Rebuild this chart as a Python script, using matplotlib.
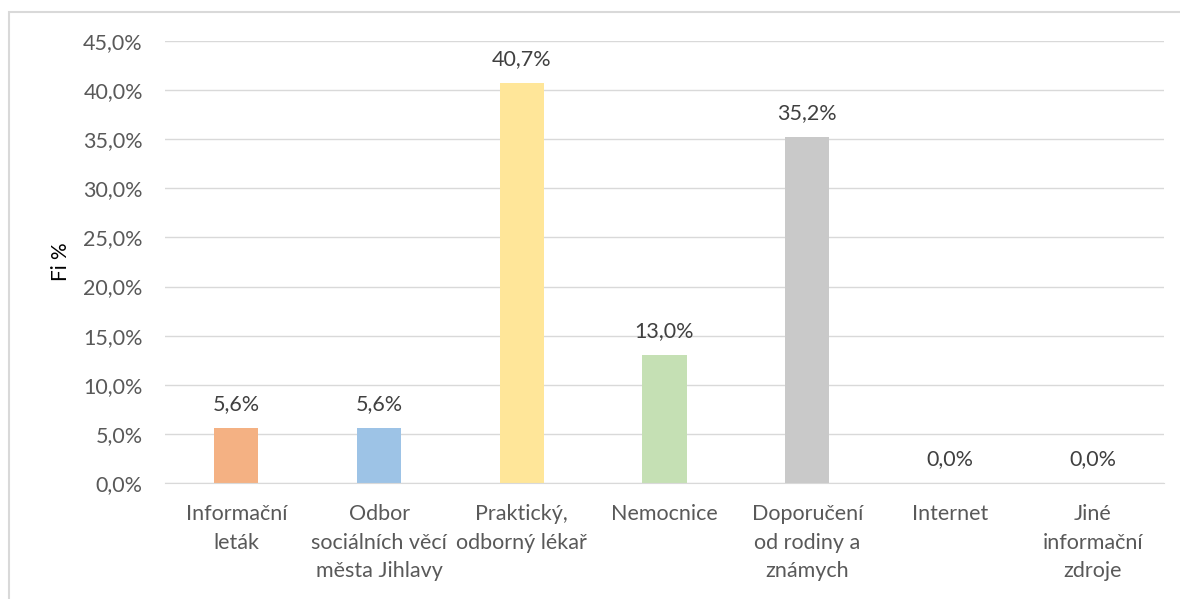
import matplotlib
matplotlib.use("Agg")
import matplotlib.pyplot as plt
from matplotlib.patches import Rectangle
from matplotlib.ticker import FuncFormatter, MultipleLocator

categories = ["Informační\nleták", "Odbor\nsociálních věcí\nměsta Jihlavy", "Praktický,\nodborný lékař",
              "Nemocnice", "Doporučení\nod rodiny a\nznámych", "Internet", "Jiné\ninformační\nzdroje"]
values = [5.6, 5.6, 40.7, 13.0, 35.2, 0.0, 0.0]
colors = ["#F4B183", "#9DC3E6", "#FFE699", "#C5E0B4", "#C9C9C9", "#A9D18E", "#8FAADC"]

plt.rcParams['font.family'] = ['Lato', 'DejaVu Sans']

W, H = 1180, 599
fig = plt.figure(figsize=(W / 100, H / 100), dpi=100)
fig.patches.append(Rectangle((9 / W, -0.1), 1.2, 1 - 12 / H + 0.1, transform=fig.transFigure,
                             fill=False, edgecolor="#D9D9D9", lw=1.5))

ax = fig.add_axes([165 / W, 1 - 483 / H, (1164 - 165) / W, (483 - 41) / H])
x = range(len(categories))
bars = ax.bar(x, values, width=0.31, color=colors, zorder=2)
for xi, v in zip(x, values):
    ax.annotate(f"{v:.1f}%".replace(".", ","), (xi, v), xytext=(0, 10), textcoords="offset points",
                ha="center", va="bottom", fontsize=15.5, color="#404040")

ax.set_xlim(-0.5, len(categories) - 0.5)
ax.set_ylim(0, 45)
ax.yaxis.set_major_locator(MultipleLocator(5))
ax.yaxis.set_major_formatter(FuncFormatter(lambda v, p: f"{v:.1f}%".replace(".", ",")))
ax.grid(axis="y", color="#D9D9D9", lw=1, zorder=0)
for s in ["top", "right", "left"]:
    ax.spines[s].set_visible(False)
ax.spines["bottom"].set_color("#D9D9D9")
ax.tick_params(length=0)
ax.tick_params(axis="y", labelsize=15.5, labelcolor="#595959", pad=16)
ax.set_xticks(list(x))
ax.set_xticklabels(categories, fontsize=15.5, color="#595959", linespacing=1.55)
ax.tick_params(axis="x", pad=15)
ax.set_ylabel("Fi %", fontsize=15, color="#000000", labelpad=9)

fig.savefig("out.png", dpi=100)
